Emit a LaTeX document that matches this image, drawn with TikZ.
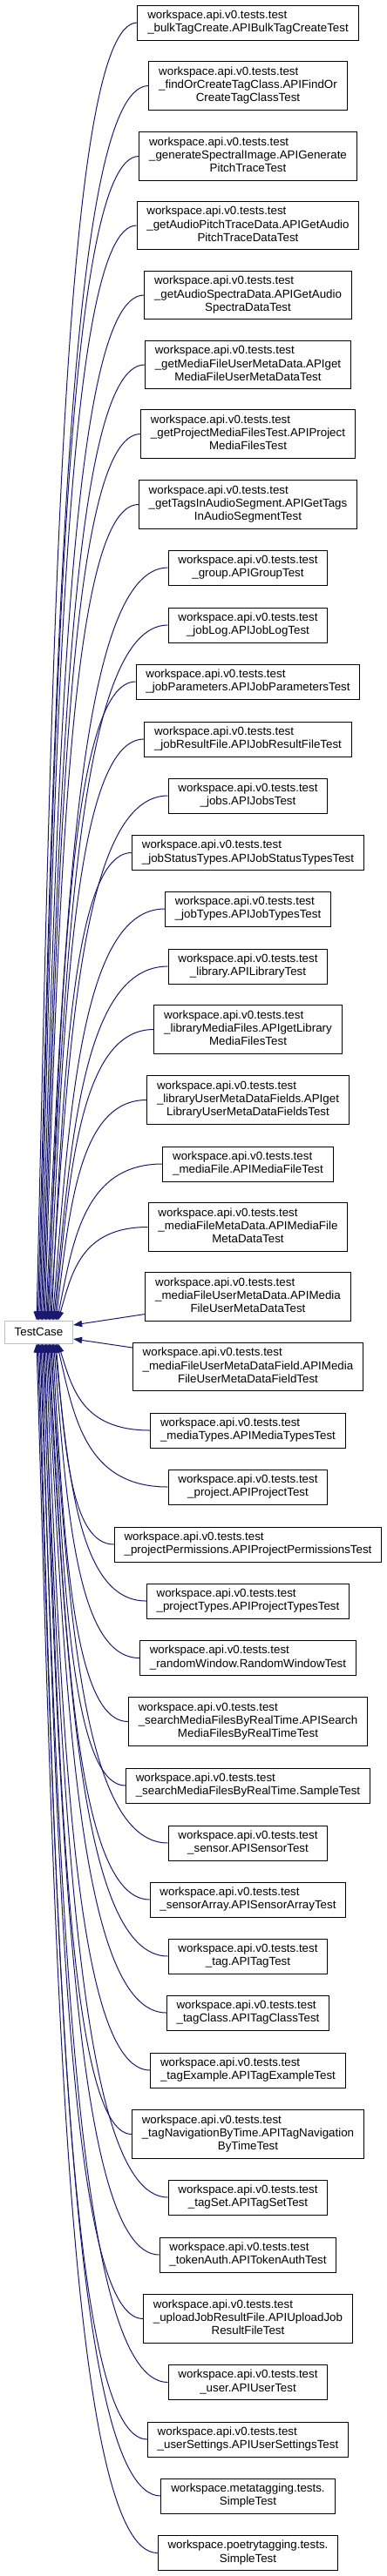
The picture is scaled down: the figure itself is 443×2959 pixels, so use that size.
\documentclass[tikz,border=0pt]{standalone}
\usepackage{fontspec}
\setmainfont{Liberation Sans}
\usetikzlibrary{arrows.meta,calc}

\definecolor{midnightblue}{HTML}{191970}
\definecolor{nodocgray}{HTML}{BFBFBF}

% class label: all lines left, last line centred
\newcommand{\dlab}[2]{\begin{tabular}{@{}l@{}}#1\\\multicolumn{1}{@{}c@{}}{#2}\end{tabular}}
\newcommand{\wsapi}{workspace.api.v0.tests.test}

\tikzset{
  classbox/.style={draw=black, fill=white, line width=0.75pt, inner xsep=8.5pt, inner ysep=3.5pt,
    font=\fontsize{10}{11.5}\selectfont},
  basebox/.style={classbox, draw=nodocgray, minimum height=19.5pt},
  derived/.style={draw=midnightblue, line width=0.75pt, {Triangle[length=7.5pt,width=5.5pt]}-},
}

\begin{document}
\begin{tikzpicture}[x=0.75pt, y=-0.75pt]
    \fill[white] (0,0) rectangle (443,2959);
    \useasboundingbox (0,0) rectangle (443,2959);

    % Base class
    \node[basebox] (tc) at (44.5,1530) {TestCase};

    % Derived classes
    \foreach \yc/\lines/\last [count=\i] in {
        26/{\wsapi}/{\_bulkTagCreate.APIBulkTagCreateTest},
        98.5/{\wsapi\\\_findOrCreateTagClass.APIFindOr}/{CreateTagClassTest},
        179.5/{\wsapi\\\_generateSpectralImage.APIGenerate}/{PitchTraceTest},
        259/{\wsapi\\\_getAudioPitchTraceData.APIGetAudio}/{PitchTraceDataTest},
        339/{\wsapi\\\_getAudioSpectraData.APIGetAudio}/{SpectraDataTest},
        419/{\wsapi\\\_getMediaFileUserMetaData.APIget}/{MediaFileUserMetaDataTest},
        498.5/{\wsapi\\\_getProjectMediaFilesTest.APIProject}/{MediaFilesTest},
        579.5/{\wsapi\\\_getTagsInAudioSegment.APIGetTags}/{InAudioSegmentTest},
        652/{\wsapi}/{\_group.APIGroupTest},
        718/{\wsapi}/{\_jobLog.APIJobLogTest},
        783/{\wsapi}/{\_jobParameters.APIJobParametersTest},
        849/{\wsapi}/{\_jobResultFile.APIJobResultFileTest},
        914/{\wsapi}/{\_jobs.APIJobsTest},
        979.5/{\wsapi}/{\_jobStatusTypes.APIJobStatusTypesTest},
        1044/{\wsapi}/{\_jobTypes.APIJobTypesTest},
        1110/{\wsapi}/{\_library.APILibraryTest},
        1182.5/{\wsapi\\\_libraryMediaFiles.APIgetLibrary}/{MediaFilesTest},
        1263.5/{\wsapi\\\_libraryUserMetaDataFields.APIget}/{LibraryUserMetaDataFieldsTest},
        1337/{\wsapi}/{\_mediaFile.APIMediaFileTest},
        1409.5/{\wsapi\\\_mediaFileMetaData.APIMediaFile}/{MetaDataTest},
        1489.5/{\wsapi\\\_mediaFileUserMetaData.APIMedia}/{FileUserMetaDataTest},
        1570/{\wsapi\\\_mediaFileUserMetaDataField.APIMedia}/{FileUserMetaDataFieldTest},
        1643/{\wsapi}/{\_mediaTypes.APIMediaTypesTest},
        1708/{\wsapi}/{\_project.APIProjectTest},
        1774/{\wsapi}/{\_projectPermissions.APIProjectPermissionsTest},
        1839/{\wsapi}/{\_projectTypes.APIProjectTypesTest},
        1904.5/{\wsapi}/{\_randomWindow.RandomWindowTest},
        1977.5/{\wsapi\\\_searchMediaFilesByRealTime.APISearch}/{MediaFilesByRealTimeTest},
        2051/{\wsapi}/{\_searchMediaFilesByRealTime.SampleTest},
        2117/{\wsapi}/{\_sensor.APISensorTest},
        2182/{\wsapi}/{\_sensorArray.APISensorArrayTest},
        2247/{\wsapi}/{\_tag.APITagTest},
        2312/{\wsapi}/{\_tagClass.APITagClassTest},
        2378/{\wsapi}/{\_tagExample.APITagExampleTest},
        2451.5/{\wsapi\\\_tagNavigationByTime.APITagNavigation}/{ByTimeTest},
        2524/{\wsapi}/{\_tagSet.APITagSetTest},
        2590/{\wsapi}/{\_tokenAuth.APITokenAuthTest},
        2663.5/{\wsapi\\\_uploadJobResultFile.APIUploadJob}/{ResultFileTest},
        2736.5/{\wsapi}/{\_user.APIUserTest},
        2802/{\wsapi}/{\_userSettings.APIUserSettingsTest},
        2867/{workspace.metatagging.tests.}/{SimpleTest},
        2932.5/{workspace.poetrytagging.tests.}/{SimpleTest}}
        \node[classbox] (c\i) at (284.5,\yc) {\dlab{\lines}{\last}};

    % Inheritance arrows into the top of TestCase
    \foreach \i in {1,...,20}
        \draw[derived] let \p1=(c\i.west), \p2=([xshift={(0.975*(\i-1)-1.875)*1pt}]tc.north) in
            (\p2) .. controls (\x2+0.15*\x1-0.15*\x2, \y2+0.5*\y1-0.5*\y2)
            and (\x1-0.75*\x1+0.75*\x2, \y1) .. (\p1);

    % Inheritance arrows into the side of TestCase
    \draw[derived] ([yshift=6pt]tc.east) -- ([yshift=-15pt]c21.west);
    \draw[derived] ([yshift=-6pt]tc.east) -- ([yshift=16.5pt]c22.west);

    % Inheritance arrows into the bottom of TestCase
    \foreach \i in {23,...,42}
        \draw[derived] let \p1=(c\i.west), \p2=([xshift={(16.65-0.975*(\i-23))*1pt}]tc.south) in
            (\p2) .. controls (\x2+0.15*\x1-0.15*\x2, \y2+0.5*\y1-0.5*\y2)
            and (\x1-0.75*\x1+0.75*\x2, \y1) .. (\p1);

\end{tikzpicture}
\end{document}
